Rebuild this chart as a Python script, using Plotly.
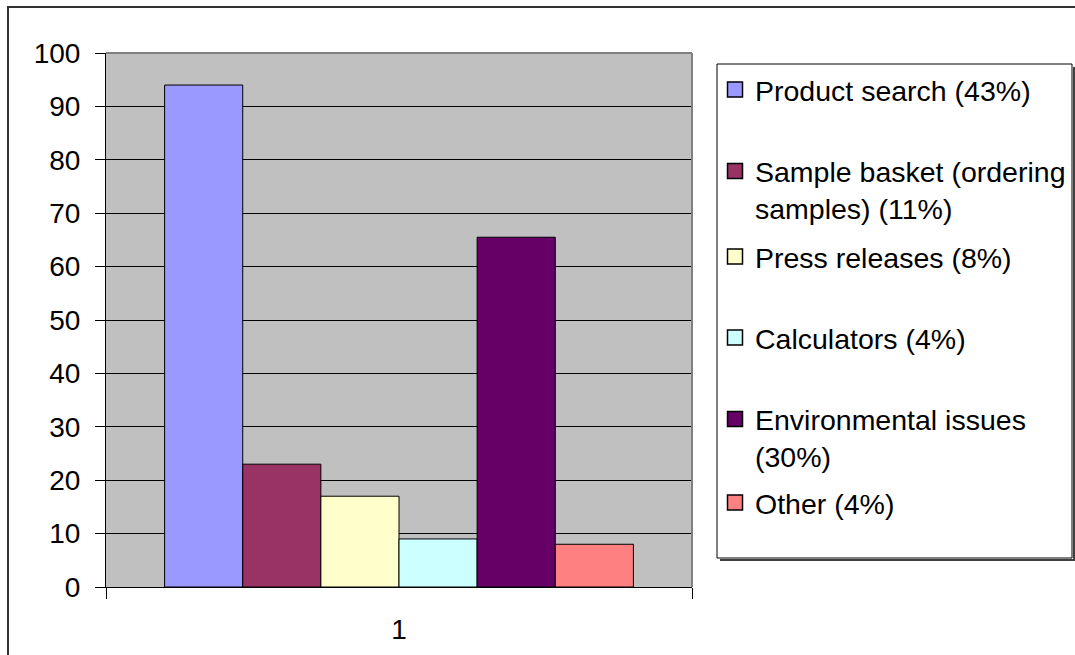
import plotly.graph_objects as go

# Visits by site section
categories = ["1"]
series_names = [
    "Product search (43%)",
    "Sample basket (ordering<br>samples) (11%)",
    "Press releases (8%)",
    "Calculators (4%)",
    "Environmental issues<br>(30%)",
    "Other (4%)",
]
series_values = [94, 23, 17, 9, 65.5, 8]
series_colors = ["#9999FF", "#993366", "#FFFFCC", "#CCFFFF", "#660066", "#FF8080"]
y_ticks = list(range(0, 101, 10))

W, H = 1075, 655
L, R, T, B = 106, 692, 53, 587   # plot area in pixels
FONT = "Liberation Sans, Arial, sans-serif"


def px(x):
    return (x - L) / (R - L)


def py(y):
    return (B - y) / (B - T)


# vertical centre (pixels) of each legend entry
legend_centers = [90, 190, 257, 338, 438, 503]

fig = go.Figure()
for i, (name, val, col) in enumerate(zip(series_names, series_values, series_colors)):
    lg = "legend" if i == 0 else f"legend{i + 1}"
    fig.add_trace(go.Bar(
        x=categories, y=[val], name=name, legendgroup=name, showlegend=False,
        marker=dict(color=col, line=dict(color="#000000", width=1)),
    ))
    # square legend key for this series
    fig.add_trace(go.Scatter(
        x=[None], y=[None], mode="markers", name=name, legendgroup=name,
        marker=dict(symbol="square", size=15, color=col,
                    line=dict(color="#000000", width=1.5)),
        legend=lg, hoverinfo="skip",
    ))

layout_legends = {}
for i, yc in enumerate(legend_centers):
    key = "legend" if i == 0 else f"legend{i + 1}"
    layout_legends[key] = dict(
        xref="container", yref="container",
        x=715 / W, y=1 - yc / H, xanchor="left", yanchor="middle",
        bgcolor="rgba(0,0,0,0)", borderwidth=0,
        font=dict(family=FONT, size=28.5, color="#000000"),
        valign="top", itemsizing="trace",
    )

fig.update_layout(
    width=W, height=H,
    margin=dict(l=L, r=W - R, t=T, b=H - B, autoexpand=False),
    paper_bgcolor="#FFFFFF", plot_bgcolor="#C0C0C0",
    barmode="group", bargap=0.2, bargroupgap=0,
    font=dict(family=FONT, size=28, color="#000000"),
    showlegend=True,
    **layout_legends,
)

fig.update_xaxes(
    type="category", showgrid=False, showline=True, linecolor="#000000", linewidth=1,
    ticks="outside", tickson="boundaries", ticklen=11, tickcolor="#000000", tickwidth=1,
    ticklabelstandoff=17, tickfont=dict(family=FONT, size=28, color="#000000"),
)
fig.update_yaxes(
    range=[0, 100], tickvals=y_ticks, showgrid=True, gridcolor="#000000", gridwidth=1,
    zeroline=False, showline=True, linecolor="#000000", linewidth=1,
    ticks="outside", ticklen=10, tickcolor="#000000", tickwidth=1,
    ticklabelstandoff=9, tickfont=dict(family=FONT, size=28, color="#000000"),
)

shapes = [
    # plot area border, top and right
    dict(type="line", xref="paper", yref="paper", x0=0, x1=1, y0=1, y1=1,
         line=dict(color="#808080", width=2), layer="above"),
    dict(type="line", xref="paper", yref="paper", x0=1, x1=1, y0=0, y1=1,
         line=dict(color="#808080", width=2), layer="above"),
    # chart frame
    dict(type="path", xref="paper", yref="paper",
         path=f"M {px(8)} {py(660)} L {px(8)} {py(7)} L {px(1080)} {py(7)}",
         line=dict(color="#333333", width=2)),
    # legend box with shadow
    dict(type="path", xref="paper", yref="paper",
         path=f"M {px(720)} {py(560)} L {px(1074)} {py(560)} L {px(1074)} {py(67)}",
         line=dict(color="#404040", width=2)),
    dict(type="rect", xref="paper", yref="paper",
         x0=px(717), x1=px(1072), y0=py(558), y1=py(64),
         line=dict(color="#000000", width=1), fillcolor="rgba(0,0,0,0)"),
]
fig.update_layout(shapes=shapes)

fig.write_html("out.html")
